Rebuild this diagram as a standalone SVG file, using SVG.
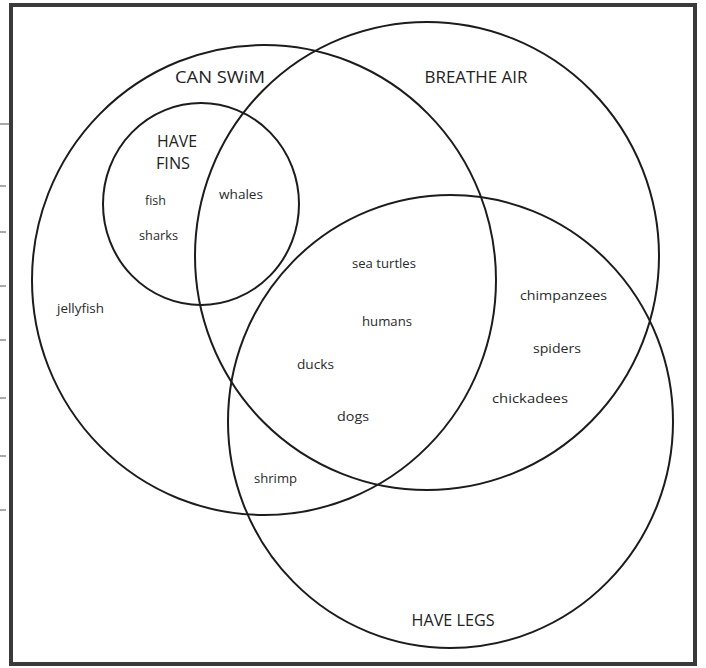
<svg xmlns="http://www.w3.org/2000/svg" width="706" height="668" viewBox="0 0 706 668">
<style>
.set{fill:none;stroke:#1c1c1c;stroke-width:2}
.cap{font-family:"Open Sans","Liberation Sans",sans-serif;font-size:16.5px;fill:#222}
.item{font-family:"Open Sans","Liberation Sans",sans-serif;font-size:12.5px;fill:#2a2a2a}
.tick{stroke:#555;stroke-width:1}
</style>
<rect width="706" height="668" fill="#fff"/>
<g id="frame">
<rect x="11" y="5" width="684" height="659" fill="#fff" stroke="#3a3a3a" stroke-width="4"/>
<line class="tick" x1="0" y1="124" x2="10" y2="124"/>
<line class="tick" x1="0" y1="186" x2="6" y2="186"/>
<line class="tick" x1="0" y1="232" x2="6" y2="232"/>
<line class="tick" x1="0" y1="286" x2="6" y2="286"/>
<line class="tick" x1="0" y1="340" x2="6" y2="340"/>
<line class="tick" x1="0" y1="398" x2="6" y2="398"/>
<line class="tick" x1="0" y1="456" x2="6" y2="456"/>
<line class="tick" x1="0" y1="510" x2="6" y2="510"/>
</g>
<g id="connectors"></g>
<g id="can-swim">
<ellipse class="set" cx="264" cy="280" rx="232" ry="235"/>
<text class="cap" x="220" y="83" text-anchor="middle" textLength="90" lengthAdjust="spacingAndGlyphs">CAN SWiM</text>
</g>
<g id="breathe-air">
<ellipse class="set" cx="427" cy="256" rx="232" ry="234"/>
<text class="cap" x="476" y="83" text-anchor="middle" textLength="103" lengthAdjust="spacingAndGlyphs">BREATHE AIR</text>
</g>
<g id="have-legs">
<ellipse class="set" cx="450.5" cy="421.5" rx="222.5" ry="226.5"/>
<text class="cap" x="453" y="626" text-anchor="middle" textLength="83" lengthAdjust="spacingAndGlyphs">HAVE LEGS</text>
</g>
<g id="have-fins">
<ellipse class="set" cx="201" cy="204" rx="98" ry="101"/>
<text class="cap" x="157" y="147" textLength="40" lengthAdjust="spacingAndGlyphs">HAVE</text>
<text class="cap" x="156" y="169" textLength="34" lengthAdjust="spacingAndGlyphs">FINS</text>
</g>
<g id="items">
<text class="item" x="145" y="205" textLength="21" lengthAdjust="spacingAndGlyphs">fish</text>
<text class="item" x="139" y="240" textLength="39" lengthAdjust="spacingAndGlyphs">sharks</text>
<text class="item" x="219" y="199" textLength="44" lengthAdjust="spacingAndGlyphs">whales</text>
<text class="item" x="57" y="313" textLength="47" lengthAdjust="spacingAndGlyphs">jellyfish</text>
<text class="item" x="352" y="268" textLength="64" lengthAdjust="spacingAndGlyphs">sea turtles</text>
<text class="item" x="362" y="326" textLength="50" lengthAdjust="spacingAndGlyphs">humans</text>
<text class="item" x="297" y="369" textLength="37" lengthAdjust="spacingAndGlyphs">ducks</text>
<text class="item" x="337" y="421" textLength="32" lengthAdjust="spacingAndGlyphs">dogs</text>
<text class="item" x="254" y="483" textLength="43" lengthAdjust="spacingAndGlyphs">shrimp</text>
<text class="item" x="520" y="300" textLength="87" lengthAdjust="spacingAndGlyphs">chimpanzees</text>
<text class="item" x="533" y="353" textLength="48" lengthAdjust="spacingAndGlyphs">spiders</text>
<text class="item" x="492" y="403" textLength="76" lengthAdjust="spacingAndGlyphs">chickadees</text>
</g>
</svg>
